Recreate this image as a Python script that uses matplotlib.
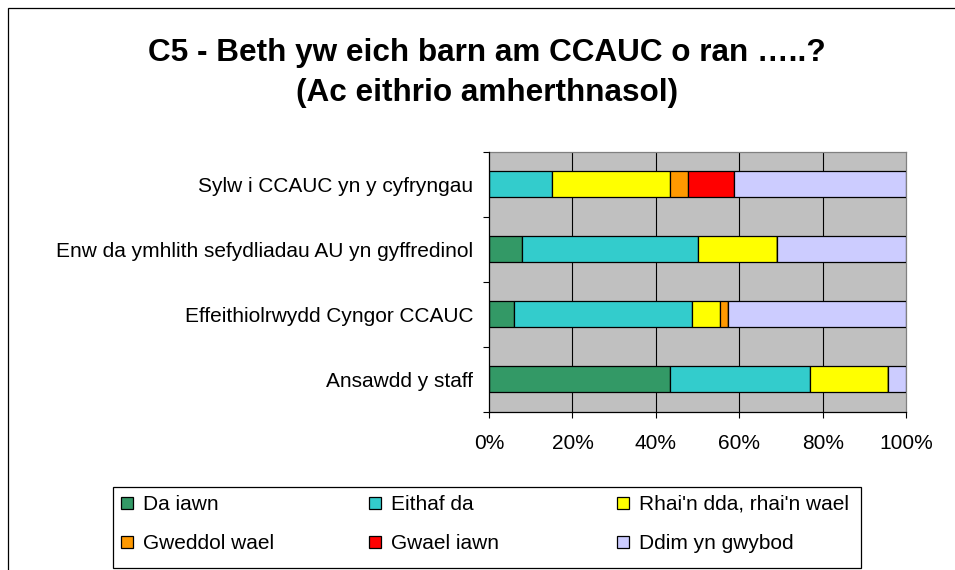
import matplotlib
matplotlib.use("Agg")
import matplotlib.pyplot as plt
from matplotlib.lines import Line2D
from matplotlib.patches import Rectangle
from matplotlib.ticker import FixedLocator, NullFormatter

plt.rcParams['font.family'] = ['Liberation Sans', 'DejaVu Sans']

# ---- data (percent), categories listed top to bottom ----
categories = ["Sylw i CCAUC yn y cyfryngau",
              "Enw da ymhlith sefydliadau AU yn gyffredinol",
              "Effeithiolrwydd Cyngor CCAUC",
              "Ansawdd y staff"]
series_names = ["Da iawn", "Eithaf da", "Rhai'n dda, rhai'n wael",
                "Gweddol wael", "Gwael iawn", "Ddim yn gwybod"]
da_iawn   = [0.0, 8.0, 6.1, 43.4]
eithaf_da = [15.1, 42.2, 42.6, 33.6]
rhain     = [28.3, 18.7, 6.7, 18.7]
gweddol   = [4.4, 0.0, 1.9, 0.0]
gwael     = [11.0, 0.0, 0.0, 0.0]
ddim      = [41.2, 31.1, 42.7, 4.3]
x_ticks = [0, 20, 40, 60, 80, 100]
x_tick_labels = ["0%", "20%", "40%", "60%", "80%", "100%"]
title = "C5 - Beth yw eich barn am CCAUC o ran …..?\n(Ac eithrio amherthnasol)"

colors = ["#339966", "#33CCCC", "#FFFF00", "#FF9900", "#FF0000", "#CCCCFF"]
series = [da_iawn, eithaf_da, rhain, gweddol, gwael, ddim]

W, H = 955, 570
fig = plt.figure(figsize=(W / 100, H / 100), dpi=100)
fig.patch.set_facecolor("white")

ax = fig.add_axes([489 / W, 1 - 411.7 / H, (906.3 - 489) / W, (411.7 - 152) / H])
ax.set_facecolor("#C0C0C0")

n = len(categories)
ypos = [n - 1 - i for i in range(n)]
left = [0.0] * n
for vals, col, name in zip(series, colors, series_names):
    ax.barh(ypos, vals, left=left, height=0.4, color=col, edgecolor="black",
            linewidth=0.9, label=name, zorder=3)
    left = [l + v for l, v in zip(left, vals)]

ax.set_xlim(0, 100)
ax.set_ylim(-0.5, n - 0.5)

# x axis
ax.set_xticks(x_ticks)
ax.set_xticklabels(x_tick_labels, fontsize=15)
ax.tick_params(axis="x", direction="out", length=4.3, width=0.8, color="black", pad=11.5)
for xv in x_ticks[1:-1]:
    ax.axvline(xv, color="black", linewidth=0.8, zorder=1)

# y axis: ticks at category boundaries, labels at centres
ax.yaxis.set_major_locator(FixedLocator([i - 0.5 for i in range(n + 1)]))
ax.yaxis.set_major_formatter(NullFormatter())
ax.yaxis.set_minor_locator(FixedLocator(ypos))
ax.set_yticklabels(categories, minor=True, fontsize=15)
ax.tick_params(axis="y", which="major", direction="out", length=4.3, width=0.8, color="black")
ax.tick_params(axis="y", which="minor", length=0, pad=11.5)

for s in ["left", "bottom"]:
    ax.spines[s].set_color("black")
    ax.spines[s].set_linewidth(0.9)
for s in ["top", "right"]:
    ax.spines[s].set_color("#808080")
    ax.spines[s].set_linewidth(0.9)
ax.spines["left"].set_zorder(4)

# title
fig.text(487 / W, 1 - 73 / H, title, ha="center", va="center", fontsize=22.7,
         fontweight="bold", linespacing=1.42)

# outer chart frame (extends past the right and bottom edges)
fig.patches.append(Rectangle((8 / W, -0.2), 2.0, 1 - 8 / H + 0.2, transform=fig.transFigure,
                             fill=False, edgecolor="black", linewidth=0.9))

# legend: frame + three columns
fig.patches.append(Rectangle((113 / W, 1 - 568 / H), (861 - 113) / W, (568 - 487) / H,
                             transform=fig.transFigure, fill=False, edgecolor="black",
                             linewidth=0.9, zorder=5))
col_x = [121, 369, 617]
order = [[0, 3], [1, 4], [2, 5]]
for cx, idxs in zip(col_x, order):
    handles = [Line2D([], [], marker="s", linestyle="none", markersize=8,
                      markerfacecolor=colors[i], markeredgecolor="black",
                      markeredgewidth=0.9) for i in idxs]
    labels = [series_names[i] for i in idxs]
    leg = fig.legend(handles, labels, loc="upper left",
                     bbox_to_anchor=(cx / W, 1 - 495 / H), frameon=False,
                     fontsize=15, handlelength=0.6, handletextpad=0.45,
                     labelspacing=0.95, borderpad=0.0, borderaxespad=0.0)

fig.savefig("out.png", dpi=100)
